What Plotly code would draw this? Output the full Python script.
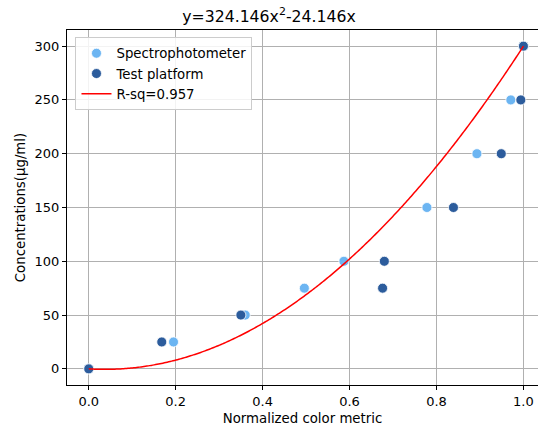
import numpy as np
import plotly.graph_objects as go

spec_x = [0.0, 0.195, 0.360, 0.496, 0.587, 0.778, 0.893, 0.971, 1.0]
spec_y = [0, 25, 50, 75, 100, 150, 200, 250, 300]
test_x = [0.0, 0.168, 0.350, 0.676, 0.680, 0.839, 0.949, 0.994, 1.0]
test_y = [0, 25, 50, 75, 100, 150, 200, 250, 300]
fit_coef = [324.146, -24.146, 0.0]  # a*x^2 + b*x + c
x_ticks = [0.0, 0.2, 0.4, 0.6, 0.8, 1.0]
y_ticks = [0, 50, 100, 150, 200, 250, 300]

fx = np.linspace(0, 1, 300)
fy = np.polyval(fit_coef, fx)

FONT = "DejaVu Sans"
fig = go.Figure()
fig.add_trace(go.Scatter(x=spec_x, y=spec_y, mode="markers", name="Spectrophotometer",
                         marker=dict(color="#6cb5f2", size=10, line=dict(color="white", width=0.8))))
fig.add_trace(go.Scatter(x=test_x, y=test_y, mode="markers", name="Test platform",
                         marker=dict(color="#2c5c9c", size=10, line=dict(color="white", width=0.8))))
fig.add_trace(go.Scatter(x=fx, y=fy, mode="lines", name="R-sq=0.957",
                         line=dict(color="red", width=1.5, simplify=False)))

axis_common = dict(showgrid=True, gridcolor="#b0b0b0", gridwidth=1, zeroline=False,
                   showline=True, linecolor="black", linewidth=1,
                   ticks="outside", ticklen=4, tickcolor="black",
                   tickfont=dict(family=FONT, size=13, color="black"))
fig.update_layout(
    width=538, height=432,
    margin=dict(l=67, r=0, t=30, b=47),
    paper_bgcolor="white", plot_bgcolor="white",
    font=dict(family=FONT, color="black"),
    title=dict(text="y=324.146x<sup>2</sup>-24.146x", x=0.5, xanchor="center",
               y=0.962, yanchor="middle", font=dict(family=FONT, size=15.7, color="black")),
    xaxis=dict(range=[-0.05, 1.0335], tickvals=x_ticks, tickformat=".1f", mirror=True,
               title=dict(text="Normalized color metric", font=dict(family=FONT, size=13.3), standoff=6),
               **axis_common),
    yaxis=dict(range=[-15, 315], tickvals=y_ticks, mirror=False,
               title=dict(text="Concentrations(μg/ml)", font=dict(family=FONT, size=13.3), standoff=5),
               **axis_common),
    legend=dict(x=0.018, y=0.98, xanchor="left", yanchor="top",
                bgcolor="rgba(255,255,255,0.85)", bordercolor="#cccccc", borderwidth=1,
                font=dict(family=FONT, size=13.3), tracegroupgap=0, itemwidth=30),
    showlegend=True,
)
fig.write_html("out.html")
